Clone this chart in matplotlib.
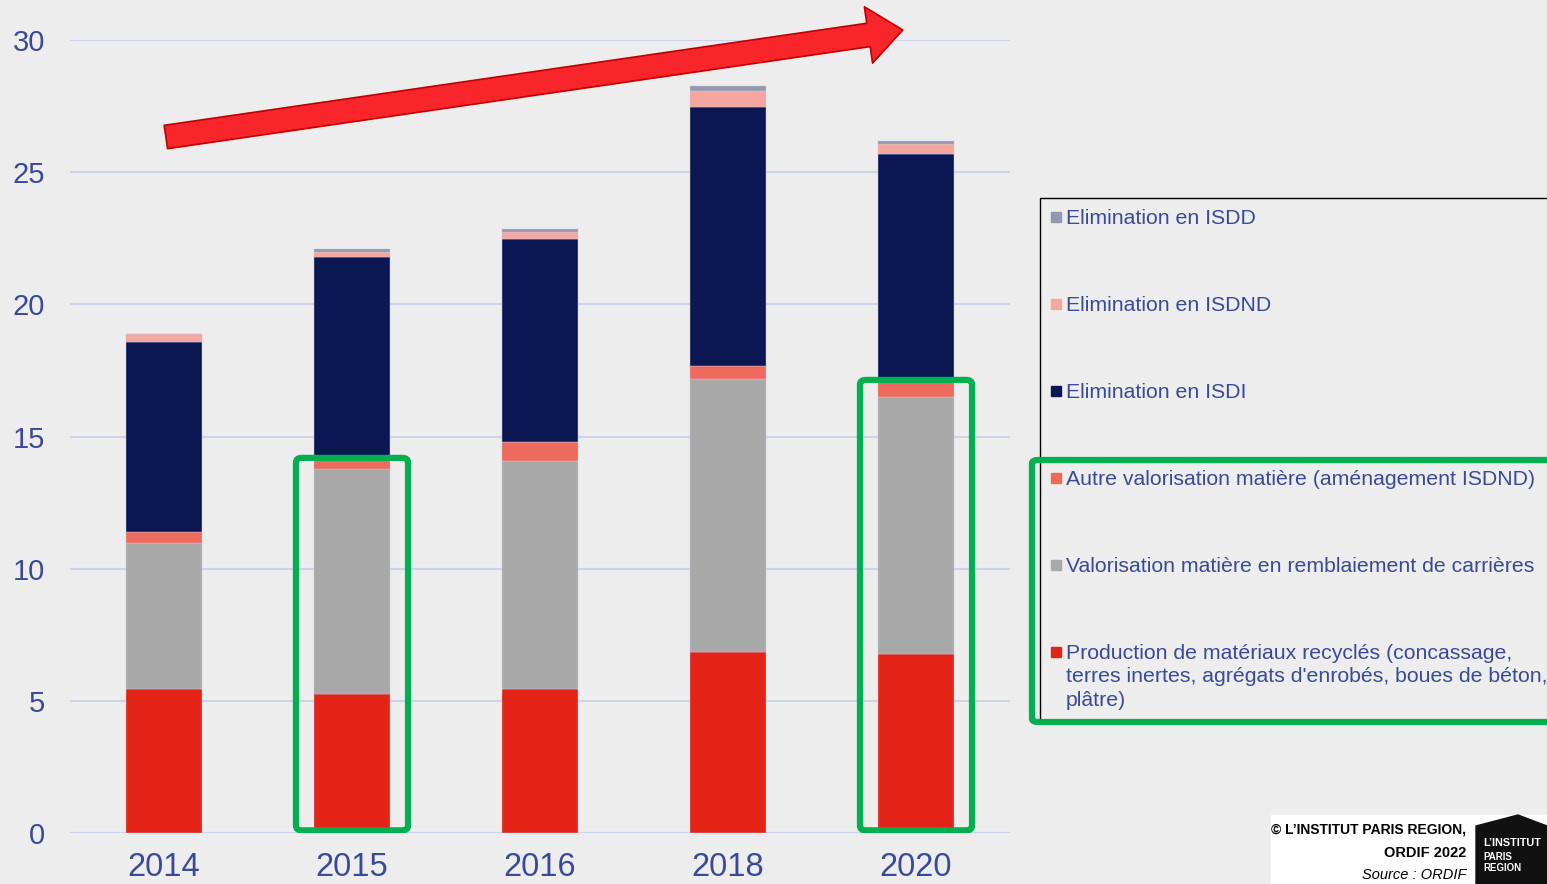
import matplotlib
matplotlib.use('Agg')
from matplotlib import pyplot as plt
from matplotlib.patches import Rectangle, FancyArrowPatch, FancyBboxPatch, Polygon
import numpy as np

# donnees (millions de tonnes)
annees = ['2014', '2015', '2016', '2018', '2020']
production = [5.45, 5.26, 5.45, 6.85, 6.77]
remblaiement = [5.52, 8.51, 8.62, 10.33, 9.73]
autre_valo = [0.42, 0.42, 0.72, 0.49, 0.64]
isdi = [7.19, 7.59, 7.68, 9.80, 8.54]
isdnd = [0.30, 0.19, 0.27, 0.60, 0.39]
isdd = [0.00, 0.11, 0.11, 0.19, 0.11]

series = [production, remblaiement, autre_valo, isdi, isdnd, isdd]
couleurs = ['#e32416', '#a9a9a9', '#ee6a5c', '#0a1752', '#f4a6a0', '#9397b0']
noms = ['Production de matériaux recyclés (concassage,\nterres inertes, agrégats d\'enrobés, boues de béton,\nplâtre)',
        'Valorisation matière en remblaiement de carrières',
        'Autre valorisation matière (aménagement ISDND)',
        'Elimination en ISDI',
        'Elimination en ISDND',
        'Elimination en ISDD']
encadres = [1, 4]

W, H = 1547, 884
fond = '#ededed'
bleu = '#3b4a96'
vert = '#00b050'

plt.rcParams['font.family'] = ['Liberation Sans', 'DejaVu Sans']

fig = plt.figure(figsize=(W / 100, H / 100), dpi=100, facecolor=fond)


def fx(px):
    return px / W


def fy(py):
    return 1 - py / H


ax = fig.add_axes([fx(70), fy(833), fx(1010) - fx(70), fy(40) - fy(833)])
ax.set_facecolor(fond)

x = np.arange(len(annees))
bas = np.zeros(len(annees))
for vals, c in zip(series, couleurs):
    ax.bar(x, vals, width=0.4, bottom=bas, color=c, edgecolor='#c4c9dc', linewidth=0.3, zorder=3)
    bas = bas + np.array(vals)

ax.set_xlim(-0.5, 4.5)
ax.set_ylim(0, 30)
ax.set_yticks([0, 5, 10, 15, 20, 25, 30])
ax.set_xticks(x)
ax.set_xticklabels(annees)
ax.yaxis.grid(True, color='#cdd3ec', linewidth=1.5, zorder=0)
ax.set_axisbelow(True)
for s in ax.spines.values():
    s.set_visible(False)
ax.tick_params(axis='y', length=0, pad=18, labelsize=21, labelcolor=bleu)
ax.tick_params(axis='x', length=0, pad=14, labelsize=23.5, labelcolor=bleu)

# fleche de tendance
fleche = FancyArrowPatch((0.01, 26.33), (3.93, 30.38),
                         arrowstyle='simple,head_length=0.5,head_width=0.82,tail_width=0.34',
                         mutation_scale=50, shrinkA=0, shrinkB=0,
                         facecolor='#f8262a', edgecolor='#c00000', linewidth=1.2,
                         clip_on=False, zorder=5)
ax.add_patch(fleche)

# encadres verts autour des barres
cumul3 = np.array(production) + np.array(remblaiement) + np.array(autre_valo)
for i in encadres:
    boite = FancyBboxPatch((i - 0.298, 0.1), 0.596, cumul3[i] - 0.1,
                           boxstyle='round,pad=0,rounding_size=0.03',
                           fill=False, edgecolor=vert, linewidth=4.5, zorder=6,
                           mutation_aspect=30 / 5)
    ax.add_patch(boite)

# legende manuelle
fig.patches.append(Rectangle((fx(1040), fy(720)), fx(1570) - fx(1040), fy(198) - fy(720),
                             transform=fig.transFigure, fill=False, edgecolor='black', linewidth=1))
lignes = [217, 304, 391, 478, 565, 652]
for nom, c, yy in zip(noms[::-1], couleurs[::-1], lignes):
    fig.patches.append(Rectangle((fx(1051), fy(yy + 5)), fx(10), 10 / H,
                                 transform=fig.transFigure, color=c))
    fig.text(fx(1066), fy(yy - 8), nom, fontsize=15.3, color=bleu, va='top', ha='left',
             linespacing=1.3)
fig.patches.append(FancyBboxPatch((fx(1032), fy(722)), fx(1570) - fx(1032), fy(460) - fy(722),
                                  boxstyle='round,pad=0,rounding_size=0.004',
                                  transform=fig.transFigure, fill=False, edgecolor=vert, linewidth=4.5))

# cartouche source
fig.patches.append(Rectangle((fx(1271), 0), fx(W) - fx(1271), fy(815), transform=fig.transFigure,
                             color='white'))
fig.text(fx(1466), fy(830), '© L\u2019INSTITUT PARIS REGION,', fontsize=10, fontweight='bold',
         ha='right', va='center', color='black')
fig.text(fx(1466), fy(853), 'ORDIF 2022', fontsize=10.5, fontweight='bold',
         ha='right', va='center', color='black')
fig.text(fx(1466), fy(875), 'Source : ORDIF', fontsize=10.5, style='italic',
         ha='right', va='center', color='black')
fig.patches.append(Polygon([(fx(1476), fy(884)), (fx(1476), fy(826)), (fx(1518), fy(815)),
                            (fx(1547), fy(826)), (fx(1547), fy(884))],
                           closed=True, transform=fig.transFigure, color='#111111'))
fig.text(fx(1483), fy(843), 'L\u2019INSTITUT', fontsize=7.8, fontweight='bold',
         color='white', ha='left', va='center')
fig.text(fx(1483), fy(857), 'PARIS', fontsize=7, fontweight='bold',
         color='white', ha='left', va='center')
fig.text(fx(1483), fy(868), 'REGION', fontsize=7, fontweight='bold',
         color='white', ha='left', va='center')

fig.savefig('out.png', dpi=100, facecolor=fond)
